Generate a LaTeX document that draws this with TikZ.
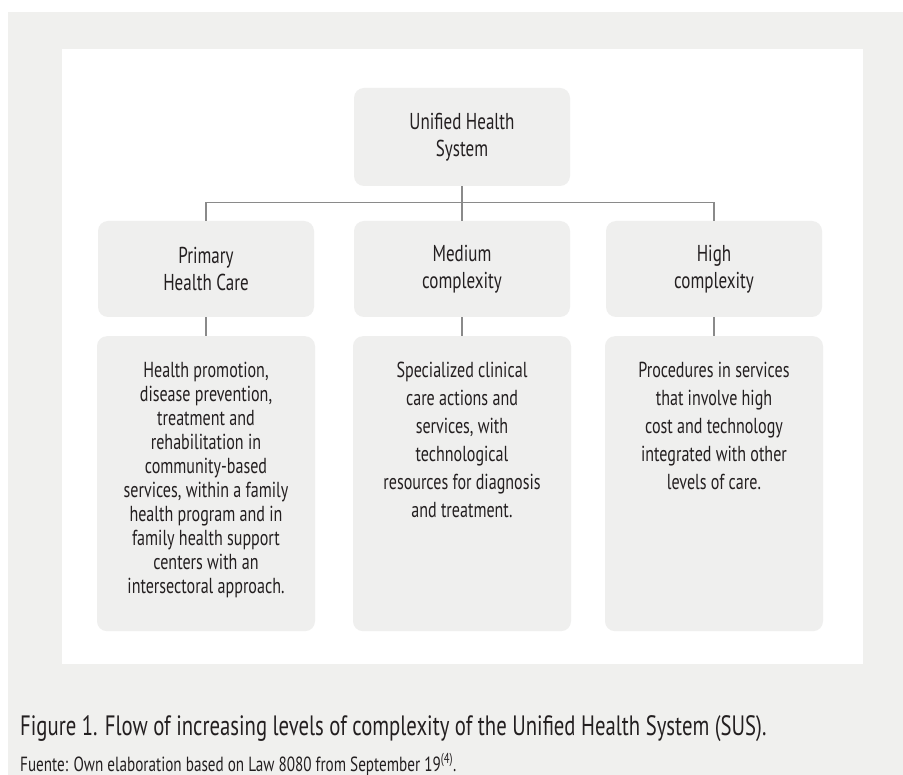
\documentclass[tikz,border=0pt]{standalone}
\usepackage{fontspec}
\setmainfont{PT Sans}[FakeStretch=0.74]
\usepackage{xcolor}
\definecolor{panelgray}{RGB}{240,240,238}
\definecolor{boxgray}{RGB}{239,239,238}
\definecolor{linkgray}{RGB}{138,138,138}
\definecolor{textgray}{RGB}{35,31,32}
\newcommand{\descpar}[2]{\parbox[c][295pt][t]{218pt}{\centering\fontsize{21.7}{#1}\selectfont\vspace*{26pt}#2}}

\begin{document}
\begin{tikzpicture}[x=1pt,y=-1pt,
  levelbox/.style={fill=boxgray,rounded corners=10pt,minimum width=216pt,minimum height=96pt,
    align=center,inner sep=0pt,text=textgray,font=\fontsize{23}{27.5}\selectfont},
  descbox/.style={fill=boxgray,rounded corners=10pt,anchor=north,inner sep=0pt,text=textgray},
  caption/.style={anchor=base west,inner sep=0pt,text=textgray},
  link/.style={draw=linkgray,line width=1.2pt}]
%Background
\useasboundingbox (0,0) rectangle (903,775);
\fill[white] (0,0) rectangle (903,775);
\fill[panelgray] (8,12) rectangle (903,775);
\fill[white] (62,49) rectangle (863,664);
%Levels
\node[levelbox,minimum height=98pt] (sus) at (462,137) {Unified Health\\System};
\node[levelbox] (primary) at (206,269) {Primary\\Health Care};
\node[levelbox] (medium) at (462,269) {Medium\\complexity};
\node[levelbox] (high) at (714,269) {High\\complexity};
%Descriptions
\node[descbox] (primarytxt) at (206,336) {\descpar{24}{Health promotion,\\disease prevention,\\treatment and\\rehabilitation in\\community-based\\services, within a family\\health program and in\\family health support\\centers with an\\intersectoral approach.}};
\node[descbox] (mediumtxt) at (462,336) {\descpar{28}{Specialized clinical\\care actions and\\services, with\\technological\\resources for diagnosis\\and treatment.}};
\node[descbox] (hightxt) at (714,336) {\descpar{28}{Procedures in services\\that involve high\\cost and technology\\integrated with other\\levels of care.}};
%Links
\draw[link] (sus.south) -- (medium.north);
\draw[link] (primary.north) -- ++(0,-18) -| (high.north);
\draw[link] (primary.south) -- (primarytxt.north);
\draw[link] (medium.south) -- (mediumtxt.north);
\draw[link] (high.south) -- (hightxt.north);
%Caption
\node[caption,font=\fontsize{28}{32}\selectfont] (title) at (20,735) {Figure 1. Flow of increasing levels of complexity of the Unified Health System (SUS).};
\node[caption,font=\fontsize{20.5}{22}\selectfont] (source) at (20,771) {Fuente: Own elaboration based on Law 8080 from September 19\textsuperscript{(4)}.};
\end{tikzpicture}
\end{document}
